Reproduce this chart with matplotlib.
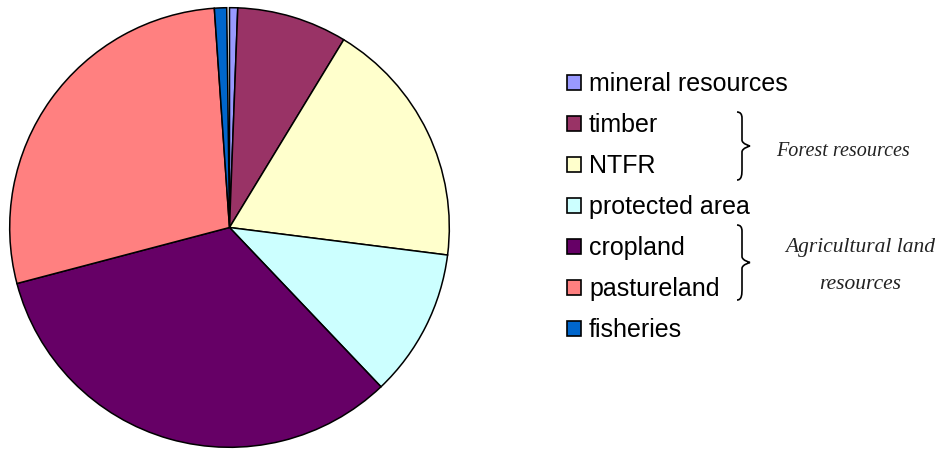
import matplotlib.pyplot as plt
from matplotlib.patches import Rectangle, PathPatch
from matplotlib.path import Path

# shares of total value (%), read clockwise from 12 o'clock
labels = ['mineral resources', 'timber', 'NTFR', 'protected area',
          'cropland', 'pastureland', 'fisheries']
shares = [0.6, 8.1, 18.3, 10.9, 33.0, 28.0, 0.9]
colors = ['#9999FF', '#993366', '#FFFFCC', '#CCFFFF',
          '#660066', '#FF8080', '#0066CC']

groups = ['Forest resources', 'Agricultural land\nresources']

W, H = 942, 450
fig = plt.figure(figsize=(W / 100, H / 100), dpi=100)

# pie axes: centre (229.5, 227.5) px, radius 222 px
cx, cy, r = 229.5, 227.5, 222
ax = fig.add_axes([(cx - r) / W, (H - cy - r) / H, 2 * r / W, 2 * r / H])
ax.pie([s / 100 for s in shares], colors=colors, startangle=90,
       counterclock=False, normalize=False,
       wedgeprops=dict(edgecolor='black', linewidth=1.1))
ax.set_xlim(-1.01, 1.01)
ax.set_ylim(-1.01, 1.01)
ax.set_aspect('equal')
ax.axis('off')

handles = [Rectangle((0, 0), 1, 1, facecolor=c, edgecolor='black', linewidth=1.2)
           for c in colors]
fig.legend(handles, labels, loc='upper left', bbox_to_anchor=(567 / W, 1 - 72 / H),
           frameon=False, prop={'family': 'Liberation Sans', 'size': 18},
           handlelength=0.55, handleheight=0.55, handletextpad=0.33,
           labelspacing=0.68, borderaxespad=0, borderpad=0)

# overlay in pixel coordinates for the braces and group notes
ov = fig.add_axes([0, 0, 1, 1])
ov.set_xlim(0, W)
ov.set_ylim(H, 0)
ov.axis('off')


def brace(y0, y1, x0=737, x1=750):
    ym = (y0 + y1) / 2
    xm = x0 + 5
    verts = [(x0, y0), (xm, y0), (xm, y0 + 6), (xm, y0 + 12),
             (xm, ym - 6),
             (xm, ym - 2), (x1, ym), (x1, ym),
             (x1, ym), (xm, ym + 2), (xm, ym + 6),
             (xm, y1 - 12),
             (xm, y1 - 6), (xm, y1), (x0, y1)]
    codes = [Path.MOVETO, Path.CURVE3, Path.CURVE3, Path.LINETO,
             Path.LINETO,
             Path.CURVE4, Path.CURVE4, Path.CURVE4,
             Path.CURVE4, Path.CURVE4, Path.CURVE4,
             Path.LINETO,
             Path.CURVE4, Path.CURVE4, Path.CURVE4]
    ov.add_patch(PathPatch(Path(verts, codes), facecolor='none',
                           edgecolor='black', linewidth=1.2))


brace(112, 180)
brace(225, 300)

ov.text(843, 151, groups[0], ha='center', va='center', fontsize=14.5,
        family='Liberation Serif', style='italic', color='#222222')
ov.text(860, 266, groups[1], ha='center', va='center', fontsize=15.5,
        family='Liberation Serif', style='italic', color='#222222',
        linespacing=2.3)

fig.savefig('out.png', dpi=100)
